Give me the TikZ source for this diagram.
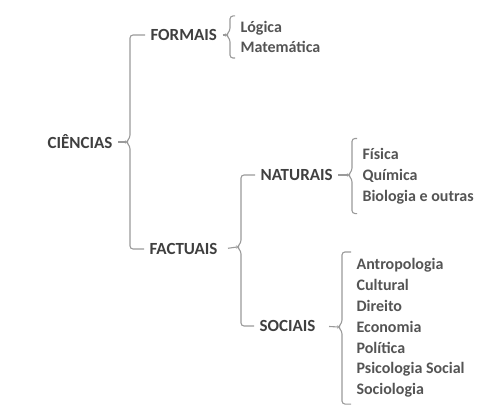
\documentclass[tikz,border=0pt]{standalone}
\usepackage{fontspec}
\setmainfont{Carlito}
\usetikzlibrary{positioning, calc}
\definecolor{cdark}{HTML}{3F3F3F}
\definecolor{cmid}{HTML}{545454}
\definecolor{cline}{HTML}{9A9A9A}
\tikzset{
  every picture/.style={line width=1.1pt},
  lbl/.style={font=\bfseries\fontsize{17}{20}\selectfont, text=cdark, inner xsep=5pt, inner ysep=2pt},
  lst/.style={font=\bfseries\fontsize{16}{20.8}\selectfont, text=cmid, align=left, anchor=west, inner xsep=5pt, inner ysep=0pt},
  brk/.style={draw=cline, rounded corners=3pt},
  tick/.style={draw=cline},
}
\begin{document}
\begin{tikzpicture}[x=1pt, y=-1pt]
  \useasboundingbox (0,0) rectangle (502,414);
  % level 0 and 1
  \node[lbl, anchor=east] (cien) at (118,142) {CIÊNCIAS};
  \node[lbl, anchor=west] (formais) at (145,35) {FORMAIS};
  \node[lbl, anchor=west] (factuais) at (144,249) {FACTUAIS};
  \draw[tick] (cien.east) -- (126,142);
  \draw[brk] (formais.west) -| (130,138) -- (126,142) -- (130,146) |- (factuais.west);
  % formais
  \node[lst, minimum height=41pt] (logica) at (235,37) {Lógica\\Matemática};
  \draw[tick] (formais.east) -- (226,35);
  \draw[brk] (logica.north west) -| (230,31) -- (226,35) -- (230,39) |- (logica.south west);
  % factuais
  \node[lbl, anchor=west] (naturais) at (255,175) {NATURAIS};
  \node[lbl, anchor=west] (sociais) at (254,326) {SOCIAIS};
  \draw[tick, shorten <=5pt] (factuais.east) -- (237,247);
  \draw[brk] (naturais.west) -| (241,243) -- (237,247) -- (241,251) |- (sociais.west);
  % naturais
  \node[lst, minimum height=74pt] (fisica) at (357,176) {Física\\Química\\Biologia e outras};
  \draw[tick] (naturais.east) -- (348,175);
  \draw[brk] (fisica.north west) -| (352,171) -- (348,175) -- (352,179) |- (fisica.south west);
  % sociais
  \node[lst, minimum height=151pt] (antropo) at (351,328) {Antropologia\\Cultural\\Direito\\Economia\\Política\\Psicologia Social\\Sociologia};
  \draw[tick, shorten <=8pt] (sociais.east) -- (338,327);
  \draw[brk] (antropo.north west) -| (342,323) -- (338,327) -- (342,331) |- (antropo.south west);
\end{tikzpicture}
\end{document}
